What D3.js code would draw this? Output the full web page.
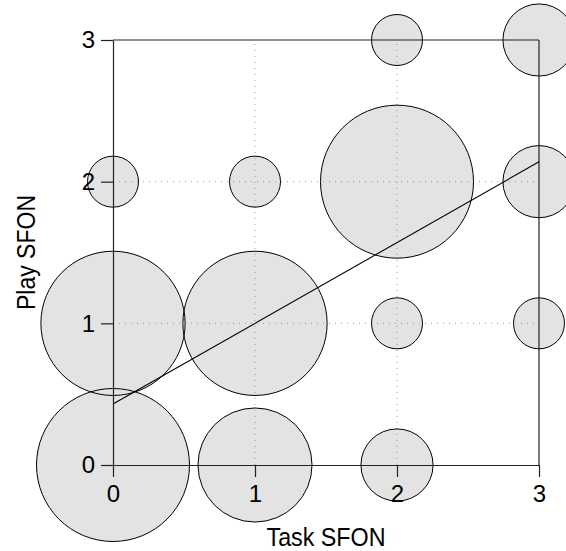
<!DOCTYPE html>
<html>
<head>
<meta charset="utf-8">
<script src="https://cdn.jsdelivr.net/npm/d3@7"></script>
<style>
  html, body { margin: 0; padding: 0; background: #fff; }
  svg { display: block; }
  text { font-family: "Liberation Sans", "DejaVu Sans", sans-serif; fill: #000; }
</style>
</head>
<body>
<svg id="chart" width="566" height="551"></svg>
<script>
// Data: (Task SFON, Play SFON) with frequency counts
const taskSFON = [0, 1, 2, 0, 1, 2, 3, 0, 1, 2, 3, 2, 3];
const playSFON = [0, 0, 0, 1, 1, 1, 1, 2, 2, 2, 2, 3, 3];
const counts   = [9, 5, 2, 8, 8, 1, 1, 1, 1, 9, 2, 1, 2];
const xTicks = [0, 1, 2, 3];
const yTicks = [0, 1, 2, 3];
const fitX = [0, 3];
const fitY = [0.43, 2.14];
const xLabel = "Task SFON";
const yLabel = "Play SFON";

const x = d3.scaleLinear().domain([0, 3]).range([113, 539]);
const y = d3.scaleLinear().domain([0, 3]).range([465, 40]);
const r = d3.scaleSqrt().domain([0, 9]).range([0, 76.5]);

const svg = d3.select("#chart");
const pts = taskSFON.map((t, i) => ({ x: t, y: playSFON[i], n: counts[i] }));

// bubble fills
svg.append("g").selectAll("circle").data(pts).join("circle")
  .attr("cx", d => x(d.x)).attr("cy", d => y(d.y)).attr("r", d => r(d.n))
  .attr("fill", "#e3e3e3").attr("stroke", "none");

// dotted grid
const grid = svg.append("g").attr("stroke", "#9a9a9a").attr("stroke-width", 1)
  .attr("stroke-dasharray", "1,5");
grid.selectAll("line.gx").data(xTicks.slice(1, -1)).join("line")
  .attr("x1", d => x(d)).attr("x2", d => x(d)).attr("y1", y(0)).attr("y2", y(3));
grid.selectAll("line.gy").data(yTicks.slice(1, -1)).join("line")
  .attr("y1", d => y(d)).attr("y2", d => y(d)).attr("x1", x(0)).attr("x2", x(3));

// bubble outlines
svg.append("g").selectAll("circle").data(pts).join("circle")
  .attr("cx", d => x(d.x)).attr("cy", d => y(d.y)).attr("r", d => r(d.n))
  .attr("fill", "none").attr("stroke", "#000").attr("stroke-width", 1);

// axes
const xAxis = d3.axisBottom(x).tickValues(xTicks).tickFormat(d3.format("d"))
  .tickSize(12).tickPadding(8).tickSizeOuter(0);
const yAxis = d3.axisLeft(y).tickValues(yTicks).tickFormat(d3.format("d"))
  .tickSize(12).tickPadding(6).tickSizeOuter(0);

const gx = svg.append("g").attr("transform", `translate(0,${y(0)})`).call(xAxis);
const gy = svg.append("g").attr("transform", `translate(${x(0)},0)`).call(yAxis);
[gx, gy].forEach(g => {
  g.select(".domain").attr("stroke", "#222").attr("stroke-width", 1.2);
  g.selectAll(".tick line").attr("stroke", "#222").attr("stroke-width", 1.2);
  g.selectAll(".tick text").style("font-size", "24px")
    .style("font-family", "Liberation Sans, DejaVu Sans, sans-serif").attr("fill", "#000");
});

// top and right frame
svg.append("line").attr("x1", x(0)).attr("x2", x(3)).attr("y1", y(3)).attr("y2", y(3))
  .attr("stroke", "#222").attr("stroke-width", 1.2);
svg.append("line").attr("x1", x(3)).attr("x2", x(3)).attr("y1", y(0)).attr("y2", y(3))
  .attr("stroke", "#222").attr("stroke-width", 1.2);

// fitted line
svg.append("line")
  .attr("x1", x(fitX[0])).attr("y1", y(fitY[0]))
  .attr("x2", x(fitX[1])).attr("y2", y(fitY[1]))
  .attr("stroke", "#000").attr("stroke-width", 1.1);

// axis titles
svg.append("text").attr("x", (x(0) + x(3)) / 2).attr("y", 546)
  .attr("text-anchor", "middle").style("font-size", "25px")
  .attr("textLength", 119).attr("lengthAdjust", "spacingAndGlyphs").text(xLabel);
svg.append("text")
  .attr("transform", `translate(35,${(y(0) + y(3)) / 2}) rotate(-90)`)
  .attr("text-anchor", "middle").style("font-size", "25px")
  .attr("textLength", 115).attr("lengthAdjust", "spacingAndGlyphs").text(yLabel);
</script>
</body>
</html>
